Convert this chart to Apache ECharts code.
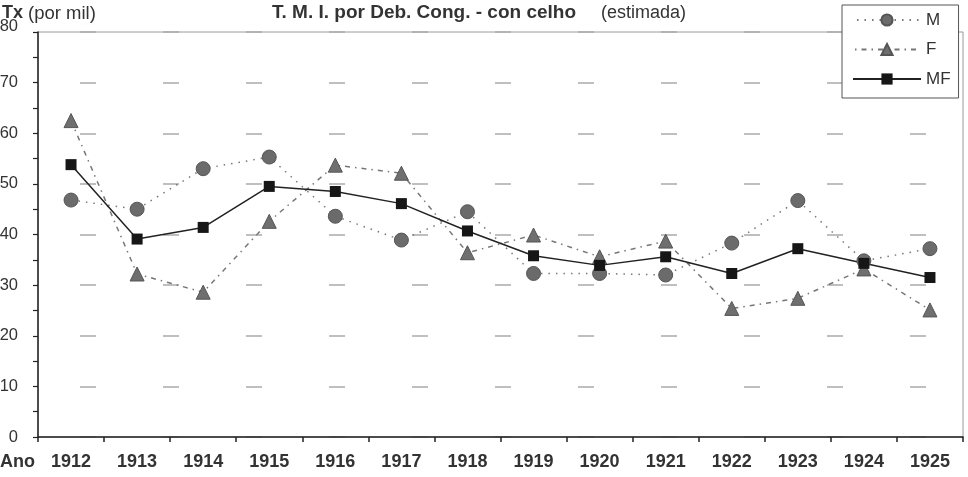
<!DOCTYPE html>
<html>
<head>
<meta charset="utf-8">
<script src="https://cdn.jsdelivr.net/npm/echarts@6/dist/echarts.min.js"></script>
<style>
  html, body { margin: 0; padding: 0; background: #fff; }
  #container { width: 968px; height: 477px; }
</style>
</head>
<body>
<div id="container"></div>
<script>
var anos = ["1912", "1913", "1914", "1915", "1916", "1917", "1918", "1919", "1920", "1921", "1922", "1923", "1924", "1925"];
var taxaM = [46.8, 45.0, 53.0, 55.3, 43.6, 38.9, 44.5, 32.3, 32.3, 32.0, 38.3, 46.7, 34.8, 37.2];
var taxaF = [62.5, 32.2, 28.6, 42.6, 53.7, 52.1, 36.4, 39.9, 35.6, 38.7, 25.4, 27.4, 33.2, 25.1];
var taxaMF = [53.8, 39.1, 41.4, 49.5, 48.5, 46.1, 40.7, 35.8, 33.9, 35.6, 32.3, 37.2, 34.3, 31.5];

var font = "'Liberation Sans', Arial, sans-serif";
var dom = document.getElementById("container");
var myChart = echarts.init(dom);

var option = {
    animation: false,
    backgroundColor: "#fff",
    textStyle: { fontFamily: font },
    grid: {
        left: 38, right: 5, top: 32, bottom: 40,
        outerBoundsMode: "none",
        containLabel: false,
        show: true, borderColor: "#9a9a9a", borderWidth: 1
    },
    legend: {
        orient: "vertical",
        left: 842, top: 5,
        padding: [6.5, 8, 10.5, 10],
        itemWidth: 68, itemHeight: 14, itemGap: 12.5,
        borderColor: "#555", borderWidth: 1,
        backgroundColor: "#fff",
        textStyle: { fontFamily: font, fontSize: 17, color: "#333" },
        data: ["M", "F", "MF"]
    },
    xAxis: {
        type: "category",
        data: anos,
        boundaryGap: true,
        axisLine: { lineStyle: { color: "#222", width: 1.5 } },
        axisTick: { show: true, length: 5, lineStyle: { color: "#222", width: 1.5 } },
        axisLabel: { margin: 16, fontSize: 18, fontWeight: "bold", color: "#333", fontFamily: font },
        splitLine: { show: false }
    },
    yAxis: {
        type: "value",
        min: 0, max: 80, interval: 10,
        axisLine: { show: true, lineStyle: { color: "#222", width: 1.5 } },
        axisTick: { show: true, length: 5, lineStyle: { color: "#222", width: 1.2 } },
        minorTick: { show: true, splitNumber: 2, length: 5, lineStyle: { color: "#222", width: 1.2 } },
        axisLabel: {
            margin: 20, fontSize: 16.5, color: "#333", fontFamily: font,
            formatter: function (v) {
                return v === 80 ? "{t|80}" : String(v);
            },
            rich: {
                t: { fontSize: 16.5, color: "#333", fontFamily: font, padding: [0, 0, 11, 0] }
            }
        },
        splitLine: {
            show: true,
            lineStyle: { color: "#aaa", width: 1.5, type: [16, 67], dashOffset: 41 }
        }
    },
    graphic: [
        {
            type: "text", left: 2, top: 4,
            style: { text: "Tx", fontFamily: font, fontSize: 18, fontWeight: "bold", fill: "#333" }
        },
        {
            type: "text", left: 28, top: 4,
            style: { text: "(por mil)", fontFamily: font, fontSize: 18.5, fill: "#333" }
        },
        {
            type: "text", left: 272, top: 3,
            style: { text: "T. M. I. por Deb. Cong. - con celho", fontFamily: font, fontSize: 19, fontWeight: "bold", fill: "#333" }
        },
        {
            type: "text", left: 601, top: 4,
            style: { text: "(estimada)", fontFamily: font, fontSize: 18, fill: "#333" }
        },
        {
            type: "text", left: 0, top: 453,
            style: { text: "Ano", fontFamily: font, fontSize: 18, fontWeight: "bold", fill: "#333" }
        }
    ],
    series: [
        {
            name: "M", type: "line", data: taxaM,
            symbol: "circle", symbolSize: 14,
            itemStyle: { color: "#6b6b6b", borderColor: "#555", borderWidth: 1 },
            lineStyle: { color: "#777", width: 1.5, type: [1.5, 6] }
        },
        {
            name: "F", type: "line", data: taxaF,
            symbol: "triangle", symbolSize: 14,
            itemStyle: { color: "#6f6f6f", borderColor: "#555", borderWidth: 1 },
            lineStyle: { color: "#777", width: 1.5, type: [5, 5, 1.5, 5] }
        },
        {
            name: "MF", type: "line", data: taxaMF,
            symbol: "rect", symbolSize: 11,
            itemStyle: { color: "#161616" },
            lineStyle: { color: "#222", width: 1.5, type: "solid" }
        }
    ]
};
myChart.setOption(option);
</script>
</body>
</html>
